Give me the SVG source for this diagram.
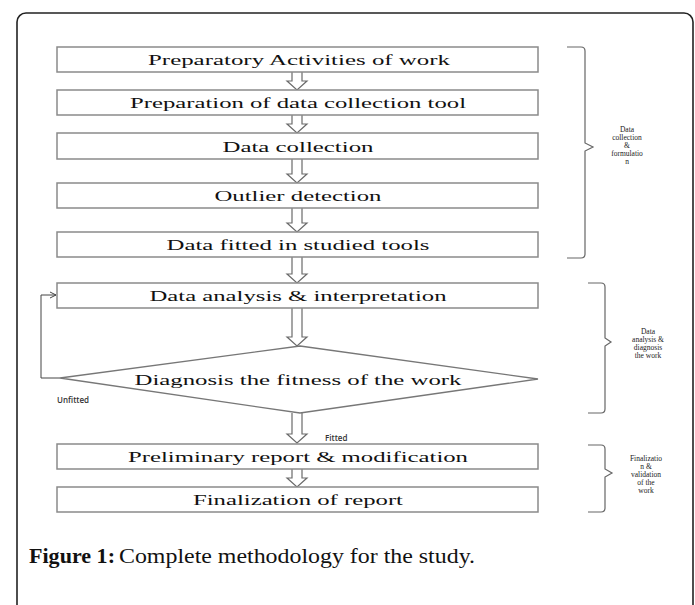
<svg xmlns="http://www.w3.org/2000/svg" width="695" height="605" viewBox="0 0 695 605">
<defs>
<style>
.box{fill:#fff;stroke:#8a8a8a;stroke-width:1.5}
.lbl{font-family:"Liberation Serif","Times New Roman",serif;font-size:15.5px;fill:#111;text-anchor:middle}
.blk{fill:#fff;stroke:#6a6a6a;stroke-width:1.2}
.br{fill:none;stroke:#666;stroke-width:1.2}
.sm{font-family:"Liberation Serif",serif;font-size:7.5px;fill:#222;text-anchor:middle}
.ans{font-family:"Open Sans","Liberation Sans",sans-serif;font-size:8px;font-weight:600;fill:#333}
</style>
<marker id="ah" markerWidth="8" markerHeight="8" refX="7" refY="4" orient="auto" markerUnits="userSpaceOnUse">
<path d="M1,1 L7,4 L1,7" fill="none" stroke="#444" stroke-width="1"/>
</marker>
</defs>
<rect width="695" height="605" fill="#fff"/>
<rect x="17" y="13" width="676" height="620" rx="9" fill="none" stroke="#222" stroke-width="1.6"/>

<g id="connectors">
<path class="blk" d="M292,72 V81 H287 L297,90 L307,81 H302 V72"/>
<path class="blk" d="M292,115 V124 H287 L297,133 L307,124 H302 V115"/>
<path class="blk" d="M292,159 V174 H287 L297,183 L307,174 H302 V159"/>
<path class="blk" d="M292,208 V223 H287 L297,232 L307,223 H302 V208"/>
<path class="blk" d="M292,257 V274 H287 L297,283 L307,274 H302 V257"/>
<path class="blk" d="M292,308 V337 H287 L297,346 L307,337 H302 V308"/>
<path class="blk" d="M292,413 V434 H287 L297,443 L307,434 H302 V413"/>
<path class="blk" d="M292,469 V478 H287 L297,487 L307,478 H302 V469"/>
<path d="M60,378 H41 V295 H56" fill="none" stroke="#444" stroke-width="1" marker-end="url(#ah)"/>
<text class="ans" x="57" y="403">Unfitted</text>
<text class="ans" x="325" y="441">Fitted</text>
</g>

<g id="n1"><rect class="box" x="57" y="47" width="481" height="25"/><text class="lbl" x="299" y="65" textLength="302" lengthAdjust="spacingAndGlyphs">Preparatory Activities of work</text></g>
<g id="n2"><rect class="box" x="57" y="90" width="481" height="25"/><text class="lbl" x="298" y="108" textLength="336" lengthAdjust="spacingAndGlyphs">Preparation of data collection tool</text></g>
<g id="n3"><rect class="box" x="57" y="133" width="481" height="26"/><text class="lbl" x="298" y="152" textLength="151" lengthAdjust="spacingAndGlyphs">Data collection</text></g>
<g id="n4"><rect class="box" x="57" y="183" width="481" height="25"/><text class="lbl" x="298" y="201" textLength="167" lengthAdjust="spacingAndGlyphs">Outlier detection</text></g>
<g id="n5"><rect class="box" x="57" y="232" width="481" height="25"/><text class="lbl" x="298" y="250" textLength="263" lengthAdjust="spacingAndGlyphs">Data fitted in studied tools</text></g>
<g id="n6"><rect class="box" x="57" y="283" width="481" height="25"/><text class="lbl" x="298" y="301" textLength="297" lengthAdjust="spacingAndGlyphs">Data analysis &amp; interpretation</text></g>
<g id="n7"><polygon points="300,346 538,379 300,413 60,378" fill="#fff" stroke="#777" stroke-width="1.3"/><text class="lbl" x="298" y="385" textLength="327" lengthAdjust="spacingAndGlyphs">Diagnosis the fitness of the work</text></g>
<g id="n8"><rect class="box" x="57" y="444" width="481" height="25"/><text class="lbl" x="298" y="462" textLength="340" lengthAdjust="spacingAndGlyphs">Preliminary report &amp; modification</text></g>
<g id="n9"><rect class="box" x="57" y="487" width="481" height="25"/><text class="lbl" x="298" y="505" textLength="210" lengthAdjust="spacingAndGlyphs">Finalization of report</text></g>

<g id="brace1">
<path class="br" d="M567,47 H581 Q585,47 585,51 V143 L593,147 L585,151 V254 Q585,258 581,258 H567"/>
<text class="sm" x="627" y="132">Data</text>
<text class="sm" x="627" y="140">collection</text>
<text class="sm" x="627" y="148">&amp;</text>
<text class="sm" x="627" y="156">formulatio</text>
<text class="sm" x="627" y="164">n</text>
</g>
<g id="brace2">
<path class="br" d="M588,283 H601 Q605,283 605,287 V338 L611,342 L605,346 V409 Q605,413 601,413 H588"/>
<text class="sm" x="648" y="334">Data</text>
<text class="sm" x="648" y="342">analysis &amp;</text>
<text class="sm" x="648" y="350">diagnosis</text>
<text class="sm" x="648" y="358">the work</text>
</g>
<g id="brace3">
<path class="br" d="M588,445 H601 Q605,445 605,449 V469 L612,473 L605,477 V508 Q605,512 601,512 H588"/>
<text class="sm" x="646" y="461">Finalizatio</text>
<text class="sm" x="646" y="469">n &amp;</text>
<text class="sm" x="646" y="477">validation</text>
<text class="sm" x="646" y="485">of the</text>
<text class="sm" x="646" y="493">work</text>
</g>

<text x="29" y="563" font-family="Liberation Serif,serif" font-size="22" fill="#111"><tspan font-weight="bold" textLength="86" lengthAdjust="spacingAndGlyphs">Figure 1:</tspan><tspan x="119" textLength="356" lengthAdjust="spacingAndGlyphs">Complete methodology for the study.</tspan></text>
</svg>
